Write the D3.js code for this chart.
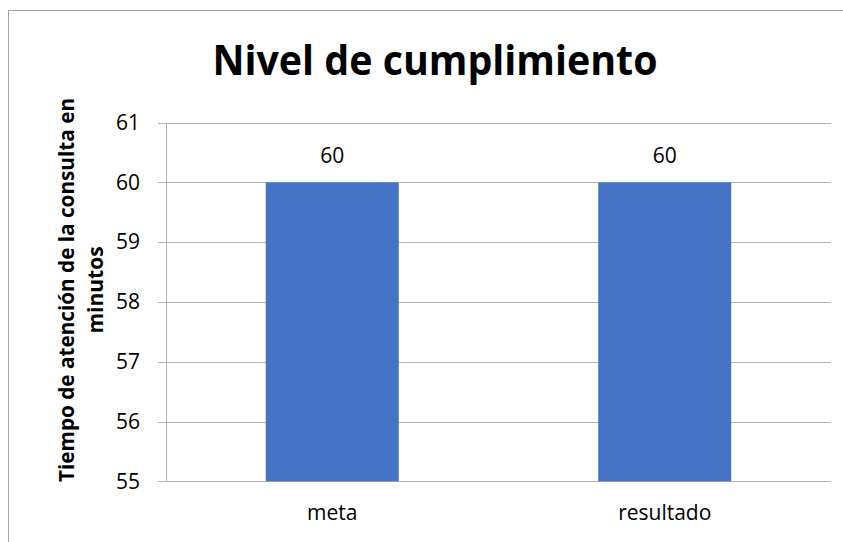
<!DOCTYPE html>
<html><head><meta charset="utf-8">
<script src="https://cdn.jsdelivr.net/npm/d3@7"></script>
<style>body{margin:0;background:#fff}svg{display:block}text{font-family:"Open Sans",sans-serif}</style>
</head><body>
<svg id="c" width="843" height="542"></svg>
<script>
const categories = ["meta", "resultado"];
const values = [60, 60];
const yTicks = [55, 56, 57, 58, 59, 60, 61];
const title = "Nivel de cumplimiento";
const yTitle = ["Tiempo de atención de la consulta en", "minutos"];

const svg = d3.select("#c");
svg.append("rect").attr("x", 8.5).attr("y", 10.5).attr("width", 900).attr("height", 600)
  .attr("fill", "#fff").attr("stroke", "#a6a6a6").attr("stroke-width", 1);

const m = {left: 166, right: 831, top: 122.7, bottom: 481.3};
const x = d3.scaleBand().domain(categories).range([m.left, m.right]).paddingInner(0.6).paddingOuter(0.3);
const y = d3.scaleLinear().domain([55, 61]).range([m.bottom, m.top]);

// gridlines
svg.append("g").selectAll("line").data(yTicks).join("line")
  .attr("x1", 158).attr("x2", m.right)
  .attr("y1", d => Math.round(y(d)) + 0.5).attr("y2", d => Math.round(y(d)) + 0.5)
  .attr("stroke", "#b4b4b4").attr("stroke-width", 1);

// bars
svg.append("g").selectAll("rect").data(values).join("rect")
  .attr("x", (d, i) => x(categories[i]))
  .attr("width", x.bandwidth())
  .attr("y", d => y(d))
  .attr("height", d => y(55) - y(d))
  .attr("fill", "#4472c4");

// y axis line
svg.append("line").attr("x1", m.left + 0.5).attr("x2", m.left + 0.5)
  .attr("y1", m.top).attr("y2", m.bottom).attr("stroke", "#b4b4b4");

// y tick labels via axis
const yAxis = d3.axisLeft(y).tickValues(yTicks).tickFormat(d3.format("d")).tickSize(0).tickPadding(26);
const ya = svg.append("g").attr("transform", `translate(${m.left},0)`).call(yAxis);
ya.select(".domain").remove();
ya.selectAll("text").attr("font-size", 21).attr("fill", "#000").attr("font-family", "Open Sans");

// x labels via axis
const xAxis = d3.axisBottom(x).tickSize(0).tickPadding(24);
const xa = svg.append("g").attr("transform", `translate(0,${m.bottom})`).call(xAxis);
xa.select(".domain").remove();
xa.selectAll("text").attr("font-size", 21).attr("fill", "#000").attr("font-family", "Open Sans");

// value labels
svg.append("g").selectAll("text").data(values).join("text")
  .attr("x", (d, i) => x(categories[i]) + x.bandwidth() / 2)
  .attr("y", d => y(d) - 19)
  .attr("text-anchor", "middle").attr("font-size", 21).attr("fill", "#000")
  .text(d => d);

// title
svg.append("text").attr("x", 435).attr("y", 75).attr("text-anchor", "middle")
  .attr("font-size", 41).attr("font-weight", "bold").attr("fill", "#000")
  .attr("textLength", 445).attr("lengthAdjust", "spacingAndGlyphs")
  .text(title);

// y title
const yt = svg.append("text").attr("transform", "translate(74,290) rotate(-90)")
  .attr("text-anchor", "middle").attr("font-size", 21).attr("font-weight", "bold").attr("fill", "#000");
yt.append("tspan").attr("x", 0).attr("y", 0).attr("textLength", 384).attr("lengthAdjust", "spacingAndGlyphs").text(yTitle[0]);
yt.append("tspan").attr("x", 0).attr("y", 29).text(yTitle[1]);
</script>
</body></html>
